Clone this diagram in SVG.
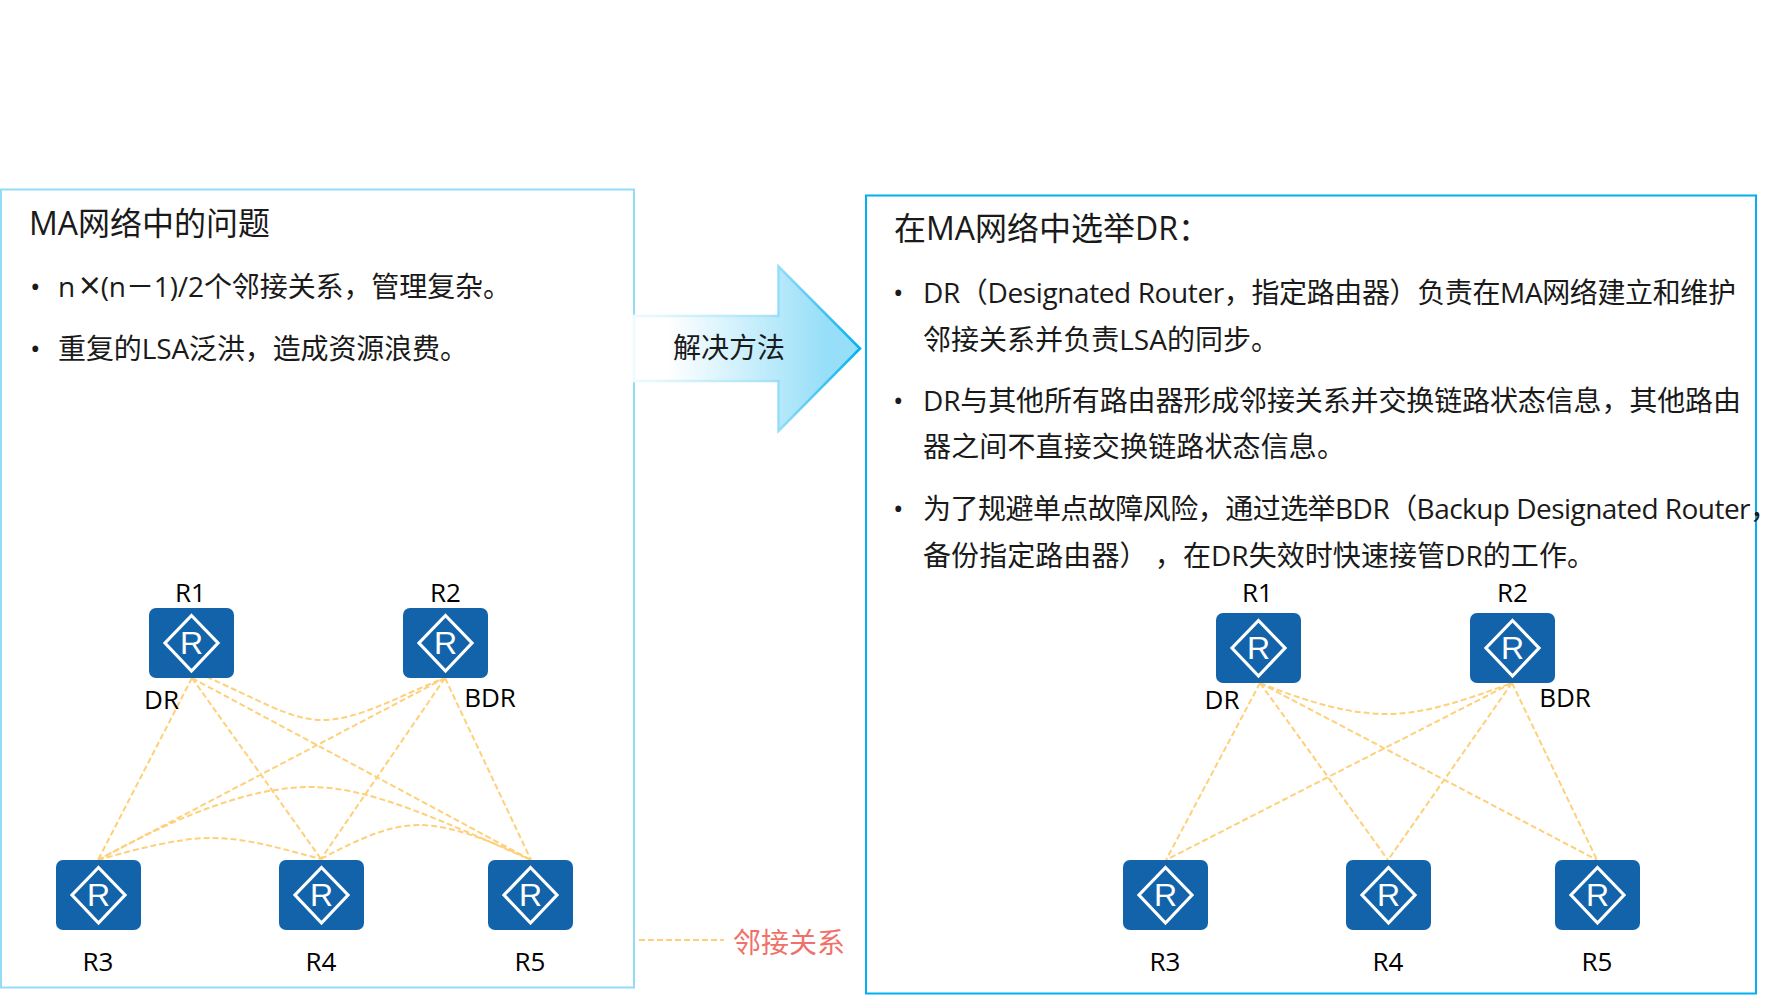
<svg xmlns="http://www.w3.org/2000/svg" width="1779" height="998" viewBox="0 0 1779 998">
<style>
text{font-family:"Open Sans","Noto Sans CJK SC","Noto Sans",sans-serif;fill:#1a1a1a}
.t{font-size:32px}.b{font-size:28px}.l{font-size:26px;fill:#000;text-anchor:middle}
.c{fill:none;stroke:#ffd07a;stroke-width:2;stroke-dasharray:6 3}
.rt{fill:#1363ab}.d{fill:none;stroke:#fff;stroke-width:3.2}
.r{font-family:"Liberation Sans",sans-serif;font-size:32px;fill:#fff;text-anchor:middle}
</style>
<defs>
<linearGradient id="af" x1="0" x2="1" y1="0" y2="0"><stop offset="0.15" stop-color="#fff"/><stop offset="0.85" stop-color="#97dff8"/></linearGradient>
<linearGradient id="as" x1="0" x2="1" y1="0" y2="0"><stop offset="0" stop-color="#eefafe"/><stop offset="0.6" stop-color="#a6e3f9"/><stop offset="1" stop-color="#00b0f0"/></linearGradient>
<g id="router"><rect class="rt" width="85" height="70" rx="7"/><path class="d" d="M42.500 7.500L69 35 42.500 63 16 35Z"/><text class="r" x="42.500" y="46">R</text></g>
</defs>
<rect id="panel-left" x="1" y="189.500" width="633" height="798" fill="#fff" stroke="#92dcf8" stroke-width="2"/>
<rect id="panel-right" x="866" y="195.500" width="890" height="798" fill="#fff" stroke="#00b0f0" stroke-width="2"/>
<g id="arrow"><path d="M634 316H778.500V266.500L860 348.500 778.500 431V381H634Z" fill="url(#af)" stroke="url(#as)" stroke-width="2.500"/><text x="673" y="358" class="b">解决方法</text></g>
<g id="text-left">
<text class="t" x="29" y="235">MA网络中的问题</text>
<text class="b" x="30" y="297">•</text><text class="b" x="58" y="297" textLength="453">n<tspan style="font-size:38px" dx="4" dy="2">×</tspan><tspan dy="-2">(n－1)/2个邻接关系，管理复杂。</tspan></text>
<text class="b" x="30" y="359">•</text><text class="b" x="58" y="359" textLength="410">重复的LSA泛洪，造成资源浪费。</text>
</g>
<g id="text-right">
<text class="t" x="894" y="240">在MA网络中选举DR：</text>
<text class="b" x="893" y="303">•</text><text class="b" x="923" y="303" textLength="813">DR（Designated Router，指定路由器）负责在MA网络建立和维护</text>
<text class="b" x="923" y="350" textLength="356">邻接关系并负责LSA的同步。</text>
<text class="b" x="893" y="411">•</text><text class="b" x="923" y="411" textLength="818">DR与其他所有路由器形成邻接关系并交换链路状态信息，其他路由</text>
<text class="b" x="923" y="457" textLength="422">器之间不直接交换链路状态信息。</text>
<text class="b" x="893" y="519">•</text><text class="b" x="923" y="519" textLength="855">为了规避单点故障风险，通过选举BDR（Backup Designated Router，</text>
<text class="b" x="923" y="566" textLength="672">备份指定路由器） ，在DR失效时快速接管DR的工作。</text>
</g>
<g id="connectors">
<path class="c" d="M192 678L98 860M192 678L321 859M192 678L531 860M445 678L98 860M445 678L321 859M445 678L531 860"/>
<path class="c" d="M198 673C260 700 290 720 322 720C360 720 400 695 445 678"/>
<path class="c" d="M98 860C180 815 250 787 311 787C370 787 440 820 531 860"/>
<path class="c" d="M98 860C140 848 180 838 211 838C250 838 285 850 321 859"/>
<path class="c" d="M321 859C360 838 390 825 419 825C450 825 490 840 531 860"/>
<path class="c" d="M1260 683L1166 860M1260 683L1388 860M1260 683L1597 860M1512 683L1166 860M1512 683L1388 860M1512 683L1597 860"/>
<path class="c" d="M1260 683C1310 703 1350 714 1387 714C1425 714 1465 700 1512 683"/>
<path class="c" d="M639 940H724"/>
</g>
<text id="legend" x="733" y="953" style="font-size:28px;fill:#f0716a">邻接关系</text>
<g id="l-R1"><use href="#router" x="149" y="608"/><text class="l" x="190.500" y="602">R1</text><text class="l" x="161.500" y="709">DR</text></g>
<g id="l-R2"><use href="#router" x="403" y="608"/><text class="l" x="445.500" y="602">R2</text><text class="l" x="490" y="707">BDR</text></g>
<g id="l-R3"><use href="#router" x="56" y="860"/><text class="l" x="98" y="971">R3</text></g>
<g id="l-R4"><use href="#router" x="279" y="860"/><text class="l" x="321" y="971">R4</text></g>
<g id="l-R5"><use href="#router" x="488" y="860"/><text class="l" x="530" y="971">R5</text></g>
<g id="r-R1"><use href="#router" x="1216" y="613"/><text class="l" x="1257.500" y="602">R1</text><text class="l" x="1222" y="709">DR</text></g>
<g id="r-R2"><use href="#router" x="1470" y="613"/><text class="l" x="1512.500" y="602">R2</text><text class="l" x="1565" y="707">BDR</text></g>
<g id="r-R3"><use href="#router" x="1123" y="860"/><text class="l" x="1165" y="971">R3</text></g>
<g id="r-R4"><use href="#router" x="1346" y="860"/><text class="l" x="1388" y="971">R4</text></g>
<g id="r-R5"><use href="#router" x="1555" y="860"/><text class="l" x="1597" y="971">R5</text></g>
</svg>
